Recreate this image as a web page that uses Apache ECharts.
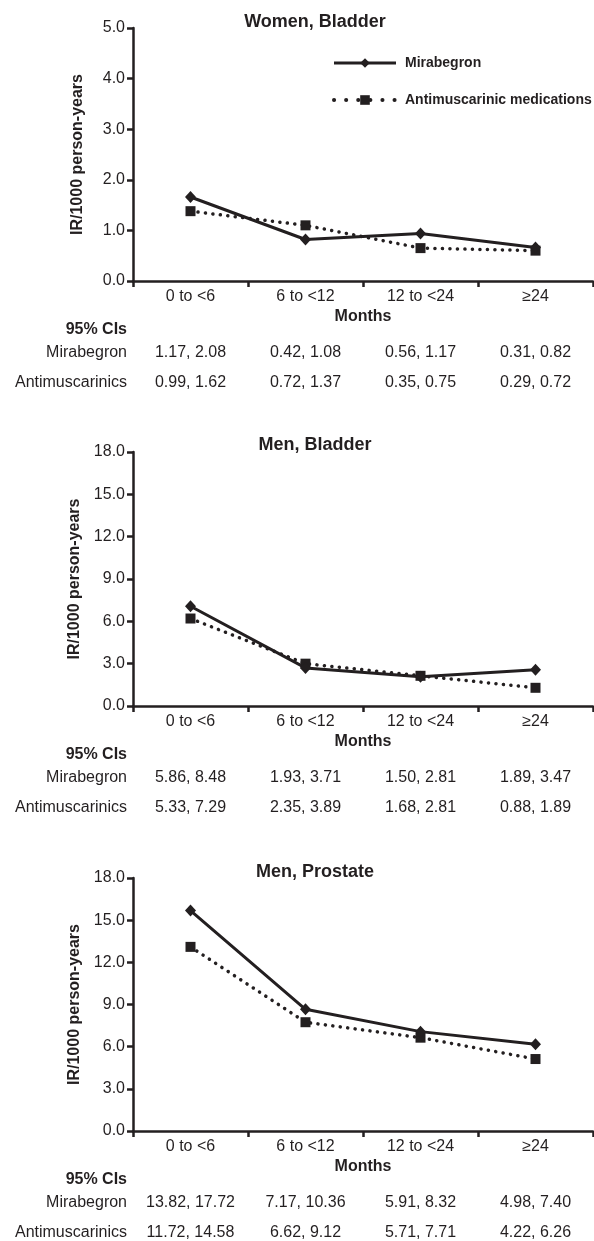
<!DOCTYPE html>
<html>
<head>
<meta charset="utf-8">
<script src="https://cdn.jsdelivr.net/npm/echarts@6/dist/echarts.min.js"></script>
<style>
  html, body { margin: 0; padding: 0; background: #fff; }
  #chart { width: 594px; height: 1241px; }
</style>
</head>
<body>
<div id="chart"></div>
<script>
// categorías del eje x
let meses = ['0 to <6', '6 to <12', '12 to <24', '\u226524'];

let titulos = ['Women, Bladder', 'Men, Bladder', 'Men, Prostate'];

// incidencias IR/1000 persona-años
let mujerVejigaMira = [1.66, 0.82, 0.94, 0.66];
let mujerVejigaAnti = [1.38, 1.10, 0.65, 0.60];
let hombreVejigaMira = [7.07, 2.70, 2.07, 2.57];
let hombreVejigaAnti = [6.20, 3.00, 2.14, 1.29];
let hombreProstMira = [15.68, 8.66, 7.07, 6.17];
let hombreProstAnti = [13.10, 7.74, 6.64, 5.12];

// intervalos de confianza 95%
let ciMujerVejigaMira = ['1.17, 2.08', '0.42, 1.08', '0.56, 1.17', '0.31, 0.82'];
let ciMujerVejigaAnti = ['0.99, 1.62', '0.72, 1.37', '0.35, 0.75', '0.29, 0.72'];
let ciHombreVejigaMira = ['5.86, 8.48', '1.93, 3.71', '1.50, 2.81', '1.89, 3.47'];
let ciHombreVejigaAnti = ['5.33, 7.29', '2.35, 3.89', '1.68, 2.81', '0.88, 1.89'];
let ciHombreProstMira = ['13.82, 17.72', '7.17, 10.36', '5.91, 8.32', '4.98, 7.40'];
let ciHombreProstAnti = ['11.72, 14.58', '6.62, 9.12', '5.71, 7.71', '4.22, 6.26'];

let ejeMax = [5, 18, 18];
let ejeIntervalo = [1, 3, 3];

let datosMira = [mujerVejigaMira, hombreVejigaMira, hombreProstMira];
let datosAnti = [mujerVejigaAnti, hombreVejigaAnti, hombreProstAnti];
let ciMira = [ciMujerVejigaMira, ciHombreVejigaMira, ciHombreProstMira];
let ciAnti = [ciMujerVejigaAnti, ciHombreVejigaAnti, ciHombreProstAnti];

const negro = '#231f20';
const fuente = "'Liberation Sans', Arial, sans-serif";

let tops = [28, 452, 878];
let alturas = [253, 254, 253];
let titTops = [8, 431, 858];

let chart = echarts.init(document.getElementById('chart'));

let grids = [], xAxes = [], yAxes = [], series = [], titles = [];

for (let i = 0; i < 3; i++) {
    grids.push({ left: 133, right: 1, top: tops[i], height: alturas[i] });
    titles.push({
        text: titulos[i],
        left: 310,
        top: titTops[i],
        textAlign: 'center',
        textStyle: { fontFamily: fuente, fontSize: 18, fontWeight: 'bold', color: negro }
    });
    xAxes.push({
        type: 'category',
        gridIndex: i,
        data: meses,
        boundaryGap: true,
        name: 'Months',
        nameLocation: 'middle',
        nameGap: 28,
        nameTextStyle: { fontFamily: fuente, fontSize: 16, fontWeight: 'bold', color: negro },
        axisLine: { lineStyle: { color: negro, width: 2.5 } },
        axisTick: { show: true, length: 6, lineStyle: { color: negro, width: 2.5 } },
        axisLabel: { fontFamily: fuente, fontSize: 16, color: negro, margin: 8 },
        splitLine: { show: false }
    });
    yAxes.push({
        type: 'value',
        gridIndex: i,
        min: 0,
        max: ejeMax[i],
        interval: ejeIntervalo[i],
        name: 'IR/1000 person-years',
        nameLocation: 'middle',
        nameGap: 47,
        nameTextStyle: { fontFamily: fuente, fontSize: 16, fontWeight: 'bold', color: negro },
        axisLine: { show: true, lineStyle: { color: negro, width: 2.5 } },
        axisTick: { show: true, length: 6, lineStyle: { color: negro, width: 2.5 } },
        axisLabel: {
            fontFamily: fuente, fontSize: 16, color: negro, margin: 8,
            formatter: (v) => v.toFixed(1)
        },
        splitLine: { show: false }
    });
    series.push({
        name: 'Mirabegron',
        type: 'line',
        xAxisIndex: i,
        yAxisIndex: i,
        data: datosMira[i],
        symbol: 'diamond',
        symbolSize: [11, 12],
        z: 3,
        itemStyle: { color: negro },
        lineStyle: { color: negro, width: 3 }
    });
    series.push({
        name: 'Antimuscarinic medications',
        type: 'line',
        xAxisIndex: i,
        yAxisIndex: i,
        data: datosAnti[i],
        symbol: 'rect',
        symbolSize: 10,
        z: 2,
        itemStyle: { color: negro },
        lineStyle: { color: negro, width: 3.5, type: [0.1, 7.4], cap: 'round' }
    });
}

let option = {
    animation: false,
    backgroundColor: '#fff',
    textStyle: { fontFamily: fuente },
    title: titles,
    legend: {
        orient: 'vertical',
        left: 332,
        top: 56,
        padding: 0,
        itemWidth: 62,
        itemHeight: 12,
        itemGap: 23,
        data: [
            { name: 'Mirabegron', lineStyle: { width: 3 } },
            { name: 'Antimuscarinic medications', lineStyle: { width: 4, type: [0.1, 12], cap: 'round' } }
        ],
        textStyle: { fontFamily: fuente, fontSize: 14, fontWeight: 'bold', color: negro, padding: [0, 0, 0, 4] }
    },
    grid: grids,
    xAxis: xAxes,
    yAxis: yAxes,
    series: series
};

option && chart.setOption(option);

// tabla de IC 95% debajo de cada gráfico
let textos = [];
let estiloTxt = (txt, x, y, align, bold) => ({
    type: 'text',
    x: x,
    y: y,
    style: {
        text: txt,
        fontFamily: fuente,
        fontSize: 16,
        fontWeight: bold ? 'bold' : 'normal',
        fill: negro,
        textAlign: align,
        textVerticalAlign: 'middle'
    }
});

for (let i = 0; i < 3; i++) {
    let base = chart.convertToPixel({ gridIndex: i }, [meses[0], 0])[1];
    let xEtiqueta = 127;
    textos.push(estiloTxt('95% CIs', xEtiqueta, base + 49, 'right', true));
    textos.push(estiloTxt('Mirabegron', xEtiqueta, base + 72, 'right', false));
    textos.push(estiloTxt('Antimuscarinics', xEtiqueta, base + 102, 'right', false));
    meses.forEach((m, j) => {
        let cx = chart.convertToPixel({ gridIndex: i }, [m, 0])[0];
        textos.push(estiloTxt(ciMira[i][j], cx, base + 72, 'center', false));
        textos.push(estiloTxt(ciAnti[i][j], cx, base + 102, 'center', false));
    });
}

chart.setOption({ graphic: textos });
window.addEventListener('resize', chart.resize);
</script>
</body>
</html>
